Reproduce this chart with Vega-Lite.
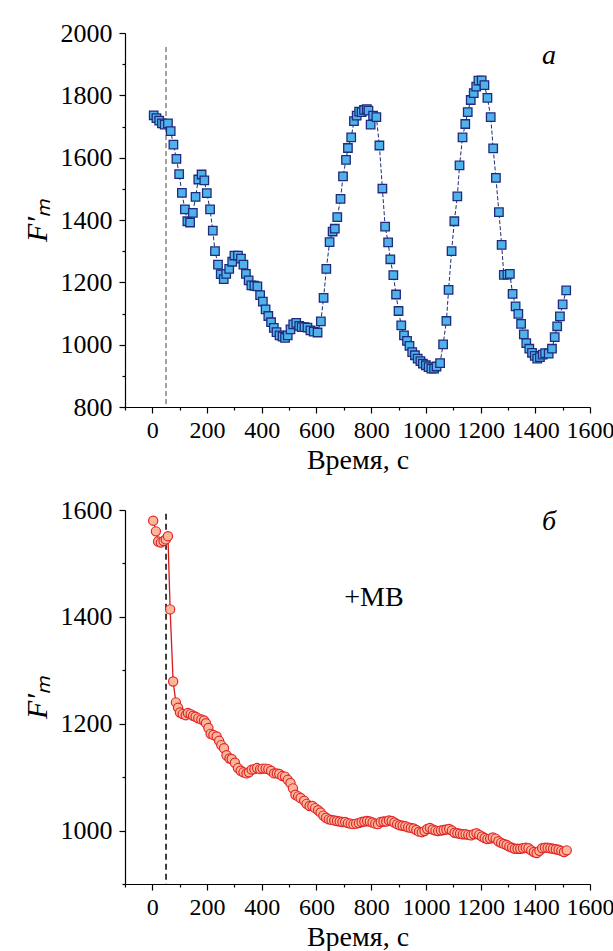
{
  "$schema": "https://vega.github.io/schema/vega-lite/v6.json",
  "padding": {"left": 22, "top": 20, "right": 5, "bottom": 5},
  "config": {
    "view": {"stroke": null},
    "axis": {
      "domainColor": "black", "domainWidth": 1.2, "tickColor": "black", "tickWidth": 1.2,
      "labelColor": "black", "titleFontWeight": "normal", "titleColor": "black",
      "grid": false, "labelOverlap": false, "labelFlush": false, "labelBound": false
    }
  },
  "datasets": {
    "a": [
      {"t":5,"v":1736},{"t":15,"v":1727},{"t":25,"v":1719},{"t":35,"v":1710},{"t":45,"v":1706},{"t":57,"v":1710},{"t":67,"v":1685},{"t":77,"v":1642},{"t":88,"v":1596},{"t":98,"v":1547},
      {"t":108,"v":1487},{"t":119,"v":1434},{"t":128,"v":1396},{"t":138,"v":1392},{"t":148,"v":1423},{"t":158,"v":1474},{"t":168,"v":1530},{"t":180,"v":1546},{"t":190,"v":1527},{"t":199,"v":1486},
      {"t":211,"v":1434},{"t":221,"v":1366},{"t":229,"v":1300},{"t":240,"v":1257},{"t":250,"v":1226},{"t":261,"v":1210},{"t":270,"v":1227},{"t":281,"v":1243},{"t":292,"v":1266},{"t":300,"v":1286},
      {"t":313,"v":1286},{"t":324,"v":1276},{"t":333,"v":1257},{"t":342,"v":1227},{"t":352,"v":1206},{"t":362,"v":1190},{"t":373,"v":1189},{"t":384,"v":1187},{"t":394,"v":1159},{"t":404,"v":1138},
      {"t":414,"v":1113},{"t":424,"v":1092},{"t":434,"v":1072},{"t":444,"v":1054},{"t":454,"v":1040},{"t":465,"v":1030},{"t":476,"v":1026},{"t":485,"v":1022},{"t":495,"v":1030},{"t":505,"v":1049},
      {"t":515,"v":1065},{"t":526,"v":1070},{"t":537,"v":1060},{"t":546,"v":1056},{"t":556,"v":1056},{"t":567,"v":1055},{"t":578,"v":1046},{"t":590,"v":1042},{"t":604,"v":1039},{"t":616,"v":1075},
      {"t":626,"v":1150},{"t":636,"v":1243},{"t":648,"v":1329},{"t":659,"v":1363},{"t":667,"v":1372},{"t":676,"v":1409},{"t":688,"v":1468},{"t":697,"v":1540},{"t":708,"v":1593},{"t":715,"v":1631},
      {"t":727,"v":1665},{"t":737,"v":1717},{"t":747,"v":1735},{"t":756,"v":1748},{"t":765,"v":1746},{"t":774,"v":1753},{"t":784,"v":1756},{"t":790,"v":1751},{"t":798,"v":1706},{"t":807,"v":1735},
      {"t":819,"v":1730},{"t":830,"v":1639},{"t":841,"v":1501},{"t":851,"v":1379},{"t":862,"v":1328},{"t":870,"v":1274},{"t":881,"v":1223},{"t":891,"v":1161},{"t":900,"v":1108},{"t":910,"v":1062},
      {"t":920,"v":1030},{"t":931,"v":1012},{"t":940,"v":996},{"t":950,"v":976},{"t":960,"v":966},{"t":970,"v":955},{"t":980,"v":947},{"t":989,"v":939},{"t":1000,"v":934},{"t":1010,"v":928},
      {"t":1020,"v":923},{"t":1030,"v":923},{"t":1039,"v":930},{"t":1052,"v":941},{"t":1063,"v":1001},{"t":1075,"v":1076},{"t":1083,"v":1176},{"t":1094,"v":1300},{"t":1104,"v":1396},{"t":1115,"v":1476},
      {"t":1123,"v":1575},{"t":1134,"v":1665},{"t":1144,"v":1708},{"t":1153,"v":1746},{"t":1164,"v":1785},{"t":1175,"v":1807},{"t":1184,"v":1828},{"t":1192,"v":1847},{"t":1204,"v":1848},{"t":1214,"v":1833},
      {"t":1225,"v":1792},{"t":1237,"v":1730},{"t":1246,"v":1630},{"t":1256,"v":1535},{"t":1267,"v":1425},{"t":1277,"v":1320},{"t":1285,"v":1224},{"t":1298,"v":1225},{"t":1307,"v":1227},{"t":1317,"v":1163},
      {"t":1328,"v":1123},{"t":1338,"v":1099},{"t":1348,"v":1067},{"t":1358,"v":1033},{"t":1367,"v":1005},{"t":1378,"v":987},{"t":1388,"v":974},{"t":1398,"v":964},{"t":1407,"v":955},{"t":1417,"v":960},
      {"t":1427,"v":968},{"t":1436,"v":973},{"t":1449,"v":971},{"t":1461,"v":987},{"t":1471,"v":1024},{"t":1480,"v":1059},{"t":1490,"v":1091},{"t":1500,"v":1129},{"t":1513,"v":1174}
    ],
    "b": [
      {"t":3,"v":1580},{"t":13,"v":1560},{"t":21,"v":1541},{"t":31,"v":1539},{"t":41,"v":1542},{"t":49,"v":1545},{"t":57,"v":1551},{"t":65,"v":1414},{"t":76,"v":1279},{"t":86,"v":1240},
      {"t":94,"v":1230},{"t":101,"v":1221},{"t":111,"v":1218},{"t":122,"v":1216},{"t":130,"v":1220},{"t":140,"v":1218},{"t":149,"v":1215},{"t":158,"v":1213},{"t":168,"v":1210},{"t":179,"v":1208},
      {"t":189,"v":1206},{"t":196,"v":1201},{"t":205,"v":1192},{"t":213,"v":1181},{"t":223,"v":1179},{"t":235,"v":1176},{"t":244,"v":1168},{"t":252,"v":1160},{"t":262,"v":1154},{"t":271,"v":1141},
      {"t":282,"v":1135},{"t":290,"v":1134},{"t":302,"v":1127},{"t":313,"v":1117},{"t":323,"v":1112},{"t":333,"v":1109},{"t":344,"v":1107},{"t":353,"v":1109},{"t":363,"v":1114},{"t":373,"v":1115},
      {"t":383,"v":1117},{"t":394,"v":1115},{"t":403,"v":1116},{"t":414,"v":1116},{"t":424,"v":1115},{"t":434,"v":1112},{"t":445,"v":1107},{"t":455,"v":1107},{"t":464,"v":1106},{"t":475,"v":1102},
      {"t":485,"v":1101},{"t":495,"v":1095},{"t":505,"v":1089},{"t":514,"v":1079},{"t":523,"v":1067},{"t":533,"v":1064},{"t":542,"v":1061},{"t":555,"v":1056},{"t":564,"v":1050},{"t":575,"v":1046},
      {"t":585,"v":1046},{"t":595,"v":1042},{"t":606,"v":1038},{"t":615,"v":1034},{"t":625,"v":1028},{"t":635,"v":1024},{"t":645,"v":1021},{"t":655,"v":1020},{"t":665,"v":1019},{"t":675,"v":1018},
      {"t":685,"v":1017},{"t":695,"v":1016},{"t":705,"v":1016},{"t":715,"v":1014},{"t":725,"v":1013},{"t":735,"v":1012},{"t":745,"v":1013},{"t":755,"v":1014},{"t":765,"v":1016},{"t":775,"v":1017},
      {"t":785,"v":1018},{"t":795,"v":1017},{"t":805,"v":1015},{"t":815,"v":1013},{"t":825,"v":1012},{"t":835,"v":1016},{"t":845,"v":1017},{"t":855,"v":1017},{"t":865,"v":1019},{"t":875,"v":1018},
      {"t":885,"v":1015},{"t":895,"v":1012},{"t":905,"v":1010},{"t":915,"v":1009},{"t":925,"v":1008},{"t":935,"v":1006},{"t":945,"v":1005},{"t":955,"v":1004},{"t":965,"v":1001},{"t":975,"v":998},
      {"t":985,"v":997},{"t":995,"v":999},{"t":1005,"v":1003},{"t":1015,"v":1005},{"t":1025,"v":1002},{"t":1035,"v":1000},{"t":1045,"v":999},{"t":1055,"v":1000},{"t":1065,"v":1001},{"t":1075,"v":1002},
      {"t":1085,"v":1003},{"t":1095,"v":1000},{"t":1105,"v":996},{"t":1115,"v":995},{"t":1125,"v":994},{"t":1135,"v":993},{"t":1145,"v":993},{"t":1155,"v":992},{"t":1165,"v":991},{"t":1175,"v":993},
      {"t":1185,"v":995},{"t":1195,"v":992},{"t":1205,"v":989},{"t":1215,"v":986},{"t":1225,"v":984},{"t":1235,"v":985},{"t":1245,"v":987},{"t":1255,"v":985},{"t":1265,"v":980},{"t":1275,"v":977},
      {"t":1285,"v":975},{"t":1295,"v":973},{"t":1305,"v":970},{"t":1315,"v":968},{"t":1325,"v":966},{"t":1335,"v":966},{"t":1345,"v":966},{"t":1355,"v":967},{"t":1365,"v":968},{"t":1375,"v":967},
      {"t":1385,"v":963},{"t":1395,"v":960},{"t":1405,"v":958},{"t":1415,"v":962},{"t":1425,"v":967},{"t":1435,"v":968},{"t":1445,"v":968},{"t":1455,"v":967},{"t":1465,"v":966},{"t":1475,"v":965},
      {"t":1485,"v":964},{"t":1495,"v":962},{"t":1505,"v":960},{"t":1515,"v":963}
    ],
    "ruleA": [{"t":50,"y":1955,"y2":800}],
    "ruleB": [{"t":50,"y":1593,"y2":900}],
    "labA": [{"t":1450,"v":1927,"txt":"а"}],
    "labB": [{"t":1450,"v":1578,"txt":"б"}],
    "labMB": [{"t":810,"v":1435,"txt":"+MB"}]
  },
  "vconcat": [
    {
      "width": 465, "height": 374,
      "resolve": {"axis": {"x": "independent", "y": "independent"}},
      "layer": [
        {
          "data": {"name": "ruleA"},
          "mark": {"type": "rule", "color": "#444444", "strokeDash": [5, 3], "strokeWidth": 1},
          "encoding": {
            "x": {"field": "t", "type": "quantitative", "scale": {"domain": [-100, 1600], "nice": false, "zero": false},
                  "axis": {"orient": "bottom", "values": [0,200,400,600,800,1000,1200,1400,1600], "format": "d", "labelFont": "Liberation Serif", "labelFontSize": 24, "tickSize": 6, "labelPadding": 5, "title": "Время, с", "titleFont": "Liberation Serif", "titleFontSize": 28, "titlePadding": 4}},
            "y": {"field": "y", "type": "quantitative", "scale": {"domain": [800, 2000], "nice": false, "zero": false},
                  "axis": {"orient": "left", "values": [800,1000,1200,1400,1600,1800,2000], "format": "d", "labelFont": "Liberation Serif", "labelFontSize": 26, "tickSize": 6, "labelPadding": 7, "title": "F′ₘ", "titleFont": "Liberation Serif", "titleFontSize": 30, "titleFontStyle": "italic", "titlePadding": 8}},
            "y2": {"field": "y2"}
          }
        },
        {
          "data": {"name": "a"},
          "mark": {"type": "line", "color": "#1E2A78", "strokeWidth": 1, "strokeDash": [4, 2]},
          "encoding": {
            "x": {"field": "t", "type": "quantitative", "scale": {"domain": [-100, 1600], "nice": false, "zero": false},
                  "axis": {"orient": "bottom", "values": [-100,100,300,500,700,900,1100,1300,1500], "tickSize": 3, "labels": false, "domain": false, "title": null}},
            "y": {"field": "v", "type": "quantitative", "scale": {"domain": [800, 2000], "nice": false, "zero": false},
                  "axis": {"orient": "left", "values": [900,1100,1300,1500,1700,1900], "tickSize": 3, "labels": false, "domain": false, "title": null}}
          }
        },
        {
          "data": {"name": "a"},
          "mark": {"type": "point", "shape": "square", "filled": true, "fill": "#4FB2E8", "stroke": "#1F2B7E", "strokeWidth": 1.3, "size": 72, "opacity": 1},
          "encoding": {
            "x": {"field": "t", "type": "quantitative", "axis": null},
            "y": {"field": "v", "type": "quantitative", "axis": null}
          }
        },
        {
          "data": {"name": "labA"},
          "mark": {"type": "text", "font": "Liberation Serif", "fontSize": 28, "fontStyle": "italic", "color": "black"},
          "encoding": {
            "x": {"field": "t", "type": "quantitative", "axis": null},
            "y": {"field": "v", "type": "quantitative", "axis": null},
            "text": {"field": "txt"}
          }
        }
      ]
    },
    {
      "width": 465, "height": 374,
      "resolve": {"axis": {"x": "independent", "y": "independent"}},
      "layer": [
        {
          "data": {"name": "ruleB"},
          "mark": {"type": "rule", "color": "black", "strokeDash": [6, 4], "strokeWidth": 1.5},
          "encoding": {
            "x": {"field": "t", "type": "quantitative", "scale": {"domain": [-100, 1600], "nice": false, "zero": false},
                  "axis": {"orient": "bottom", "values": [0,200,400,600,800,1000,1200,1400,1600], "format": "d", "labelFont": "Liberation Serif", "labelFontSize": 24, "tickSize": 6, "labelPadding": 5, "title": "Время, с", "titleFont": "Liberation Serif", "titleFontSize": 28, "titlePadding": 4}},
            "y": {"field": "y", "type": "quantitative", "scale": {"domain": [900, 1600], "nice": false, "zero": false},
                  "axis": {"orient": "left", "values": [1000,1200,1400,1600], "format": "d", "labelFont": "Liberation Serif", "labelFontSize": 26, "tickSize": 6, "labelPadding": 7, "title": "F′ₘ", "titleFont": "Liberation Serif", "titleFontSize": 30, "titleFontStyle": "italic", "titlePadding": 8}},
            "y2": {"field": "y2"}
          }
        },
        {
          "data": {"name": "b"},
          "mark": {"type": "line", "color": "#D7191C", "strokeWidth": 1.3},
          "encoding": {
            "x": {"field": "t", "type": "quantitative", "scale": {"domain": [-100, 1600], "nice": false, "zero": false},
                  "axis": {"orient": "bottom", "values": [-100,100,300,500,700,900,1100,1300,1500], "tickSize": 3, "labels": false, "domain": false, "title": null}},
            "y": {"field": "v", "type": "quantitative", "scale": {"domain": [900, 1600], "nice": false, "zero": false},
                  "axis": {"orient": "left", "values": [900,1100,1300,1500], "tickSize": 3, "labels": false, "domain": false, "title": null}}
          }
        },
        {
          "data": {"name": "b"},
          "mark": {"type": "point", "shape": "circle", "filled": true, "fill": "#FBB899", "stroke": "#E0262A", "strokeWidth": 1.2, "size": 85, "opacity": 1},
          "encoding": {
            "x": {"field": "t", "type": "quantitative", "axis": null},
            "y": {"field": "v", "type": "quantitative", "axis": null}
          }
        },
        {
          "data": {"name": "labB"},
          "mark": {"type": "text", "font": "Liberation Serif", "fontSize": 28, "fontStyle": "italic", "color": "black"},
          "encoding": {
            "x": {"field": "t", "type": "quantitative", "axis": null},
            "y": {"field": "v", "type": "quantitative", "axis": null},
            "text": {"field": "txt"}
          }
        },
        {
          "data": {"name": "labMB"},
          "mark": {"type": "text", "font": "Liberation Serif", "fontSize": 28, "color": "black"},
          "encoding": {
            "x": {"field": "t", "type": "quantitative", "axis": null},
            "y": {"field": "v", "type": "quantitative", "axis": null},
            "text": {"field": "txt"}
          }
        }
      ]
    }
  ],
  "spacing": 103,
  "bounds": "flush"
}
